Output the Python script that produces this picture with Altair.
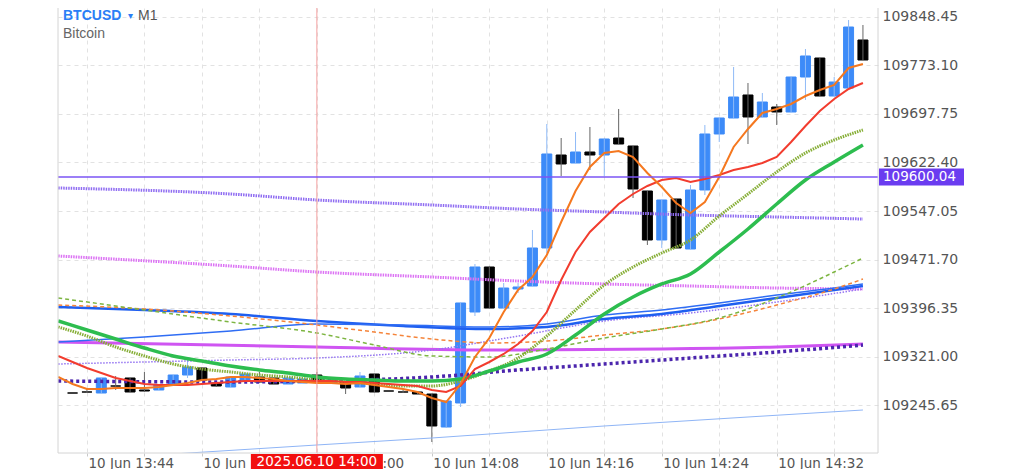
import altair as alt
import pandas as pd

DAY = "2025-06-10T"


def iso(hm):
    return DAY + hm + ":00"


def dt(hm, sec=0):
    h, m = hm.split(":")
    return alt.DateTime(year=2025, month=6, date=10, hours=int(h), minutes=int(m), seconds=sec)


W, H = 820, 445

# ---------------- candles (M1) ----------------
candle_times = [
    "13:43", "13:44", "13:45", "13:46", "13:47", "13:48", "13:49", "13:50", "13:51", "13:52",
    "13:53", "13:54", "13:55", "13:56", "13:57", "13:58", "13:59", "14:00", "14:01", "14:02",
    "14:03", "14:04", "14:05", "14:06", "14:07", "14:08", "14:09", "14:10", "14:11", "14:12",
    "14:13", "14:14", "14:15", "14:16", "14:17", "14:18", "14:19", "14:20", "14:21", "14:22",
    "14:23", "14:24", "14:25", "14:26", "14:27", "14:28", "14:29", "14:30", "14:31", "14:32",
    "14:33", "14:34", "14:35", "14:36", "14:37", "14:38"]
open_ = [
    109264.29, 109265.85, 109264.29, 109275.17, 109287.60, 109268.96, 109268.96, 109276.72, 109292.26, 109303.14,
    109279.83, 109273.62, 109282.94, 109289.15, 109287.60, 109278.28, 109279.83, 109292.26, 109279.83, 109281.38,
    109273.62, 109293.81, 109267.40, 109265.85, 109265.85, 109262.74, 109211.47, 109248.76, 109390.14, 109460.05,
    109396.35, 109425.87, 109430.53, 109489.57, 109634.05, 109621.62, 109638.71, 109634.05, 109660.46, 109648.03,
    109578.12, 109502.00, 109565.69, 109488.01, 109579.68, 109666.68, 109691.54, 109727.27, 109693.09, 109708.62,
    109700.86, 109755.23, 109784.75, 109725.71, 109738.14, 109812.72]
high = [
    109264.29, 109270.51, 109287.60, 109290.71, 109287.60, 109296.92, 109276.72, 109292.26, 109318.67, 109304.69,
    109281.38, 109289.15, 109293.81, 109296.92, 109287.60, 109287.60, 109286.05, 109296.92, 109284.49, 109281.38,
    109296.92, 109293.81, 109267.40, 109268.96, 109265.85, 109262.74, 109251.87, 109404.12, 109464.71, 109460.05,
    109435.19, 109435.19, 109517.53, 109682.21, 109660.46, 109669.78, 109677.55, 109658.91, 109705.52, 109648.03,
    109578.12, 109564.14, 109565.69, 109587.44, 109680.66, 109691.54, 109770.77, 109745.91, 109730.38, 109713.29,
    109755.23, 109798.73, 109784.75, 109755.23, 109843.79, 109836.02]
low = [
    109264.29, 109264.29, 109264.29, 109268.96, 109265.85, 109265.85, 109268.96, 109276.72, 109287.60, 109284.49,
    109273.62, 109273.62, 109282.94, 109279.83, 109278.28, 109278.28, 109279.83, 109282.94, 109279.83, 109262.74,
    109273.62, 109265.85, 109267.40, 109264.29, 109262.74, 109188.17, 109209.92, 109242.54, 109383.92, 109396.35,
    109396.35, 109419.66, 109430.53, 109481.80, 109601.43, 109621.62, 109610.75, 109601.43, 109651.14, 109567.25,
    109494.23, 109489.57, 109489.57, 109488.01, 109571.91, 109654.25, 109691.54, 109651.14, 109693.09, 109680.66,
    109700.86, 109719.50, 109725.71, 109725.71, 109738.14, 109781.64]
close = [
    109264.29, 109265.85, 109287.60, 109275.17, 109265.85, 109267.40, 109276.72, 109292.26, 109304.69, 109284.49,
    109275.17, 109289.15, 109293.81, 109281.38, 109278.28, 109287.60, 109286.05, 109282.94, 109284.49, 109272.06,
    109290.71, 109265.85, 109267.40, 109265.85, 109262.74, 109213.03, 109251.87, 109404.12, 109460.05, 109396.35,
    109427.42, 109428.98, 109489.57, 109635.61, 109620.07, 109638.71, 109634.05, 109658.91, 109651.14, 109581.23,
    109502.00, 109564.14, 109489.57, 109579.68, 109666.68, 109691.54, 109724.16, 109693.09, 109716.39, 109700.86,
    109755.23, 109787.86, 109725.71, 109747.46, 109832.91, 109781.64]

# ---------------- indicator lines ----------------
minute_times = [
    "13:42", "13:43", "13:44", "13:45", "13:46", "13:47", "13:48", "13:49", "13:50", "13:51",
    "13:52", "13:53", "13:54", "13:55", "13:56", "13:57", "13:58", "13:59", "14:00", "14:01",
    "14:02", "14:03", "14:04", "14:05", "14:06", "14:07", "14:08", "14:09", "14:10", "14:11",
    "14:12", "14:13", "14:14", "14:15", "14:16", "14:17", "14:18", "14:19", "14:20", "14:21",
    "14:22", "14:23", "14:24", "14:25", "14:26", "14:27", "14:28", "14:29", "14:30", "14:31",
    "14:32", "14:33", "14:34", "14:35", "14:36", "14:37", "14:38"]
ma_orange = [
    109289.15, 109278.28, 109270.51, 109270.51, 109272.06, 109272.06, 109272.06, 109273.62, 109276.72, 109279.83,
    109284.49, 109286.05, 109289.15, 109289.15, 109287.60, 109286.05, 109282.94, 109281.38, 109279.83, 109279.83,
    109278.28, 109279.83, 109276.72, 109273.62, 109270.51, 109265.85, 109256.53, 109250.31, 109278.28, 109320.22,
    109349.74, 109390.14, 109424.32, 109444.51, 109478.69, 109529.96, 109578.12, 109615.41, 109637.16, 109640.27,
    109630.94, 109606.09, 109584.34, 109559.48, 109543.94, 109561.03, 109599.87, 109646.48, 109674.45, 109699.30,
    109705.52, 109713.29, 109725.71, 109735.04, 109742.80, 109769.22, 109775.43]
ma_red = [
    109321.78, 109312.46, 109303.14, 109295.37, 109287.60, 109282.94, 109278.28, 109276.72, 109276.72, 109276.72,
    109278.28, 109279.83, 109281.38, 109282.94, 109282.94, 109282.94, 109282.94, 109282.94, 109282.94, 109282.94,
    109281.38, 109281.38, 109279.83, 109278.28, 109276.72, 109275.17, 109268.96, 109265.85, 109275.17, 109301.58,
    109312.46, 109324.89, 109340.42, 109360.62, 109390.14, 109439.85, 109483.35, 109514.42, 109536.18, 109557.93,
    109573.46, 109585.89, 109595.21, 109598.32, 109592.10, 109596.77, 109602.98, 109610.75, 109615.41, 109621.62,
    109630.94, 109654.25, 109679.11, 109702.41, 109721.05, 109736.59, 109745.91]

two_min_times = [
    "13:42", "13:44", "13:46", "13:48", "13:50", "13:52", "13:54", "13:56", "13:58", "14:00",
    "14:02", "14:04", "14:06", "14:08", "14:10", "14:12", "14:14", "14:16", "14:18", "14:20",
    "14:22", "14:24", "14:26", "14:28", "14:30", "14:32", "14:34", "14:36", "14:38"]
ma_olive_dot = [
    109366.83, 109352.85, 109335.76, 109321.78, 109309.35, 109301.58, 109296.92, 109292.26, 109289.15, 109284.49,
    109281.38, 109278.28, 109275.17, 109275.17, 109282.94, 109298.47, 109318.67, 109352.85, 109393.24, 109432.08,
    109460.05, 109481.80, 109502.00, 109539.28, 109573.46, 109607.64, 109637.16, 109657.36, 109672.89]
ma_green = [
    109376.15, 109362.17, 109348.19, 109334.21, 109321.78, 109314.01, 109306.24, 109300.03, 109295.37, 109289.15,
    109286.05, 109284.49, 109282.94, 109282.94, 109286.05, 109298.47, 109312.46, 109324.89, 109354.40, 109387.03,
    109413.44, 109433.64, 109449.17, 109483.35, 109519.09, 109557.93, 109595.21, 109623.18, 109649.59]

dash_times = ["13:42", "13:48", "13:54", "14:00", "14:04", "14:08", "14:12", "14:16", "14:20", "14:24",
              "14:28", "14:32", "14:36", "14:38"]
ma_olive_dash = [109411.89, 109393.24, 109374.60, 109357.51, 109338.87, 109321.78, 109320.22, 109332.65,
                 109349.74, 109363.73, 109380.82, 109411.89, 109452.28, 109474.03]
ma_orange_dash = [109401.01, 109394.80, 109383.92, 109369.94, 109359.06, 109348.19, 109341.98, 109345.08,
                  109354.40, 109363.73, 109379.26, 109401.01, 109425.87, 109441.41]

blue_times = ["13:42", "13:48", "13:54", "14:00", "14:06", "14:12", "14:16", "14:20", "14:24", "14:28",
              "14:32", "14:36", "14:38"]
ma_blue_thick = [109397.90, 109393.24, 109387.03, 109376.15, 109368.39, 109363.73, 109366.83, 109379.26,
                 109387.03, 109399.46, 109411.89, 109424.32, 109430.53]
ma_blue_thin = [109343.53, 109351.30, 109360.62, 109371.49, 109369.94, 109366.83, 109371.49, 109385.48,
                109393.24, 109404.12, 109416.55, 109427.42, 109433.64]

magenta_times = ["13:42", "14:00", "14:12", "14:24", "14:32", "14:38"]
ma_magenta = [109343.53, 109335.76, 109331.10, 109332.65, 109335.76, 109340.42]

slow_times = ["13:42", "13:54", "14:00", "14:08", "14:14", "14:20", "14:26", "14:32", "14:38"]
ma_indigo_dot = [109282.94, 109281.38, 109282.94, 109289.15, 109300.03, 109309.35, 109318.67, 109327.99, 109338.87]
ma_lavender_dot = [109309.35, 109315.56, 109318.67, 109331.10, 109352.85, 109376.15, 109388.58, 109405.67, 109425.87]
ma_violet_dot = [109582.78, 109573.46, 109564.14, 109556.37, 109550.16, 109545.50, 109540.84, 109537.73, 109534.62]
ma_pink_dot = [109477.14, 109461.60, 109452.28, 109444.51, 109438.30, 109433.64, 109430.53, 109427.42, 109425.87]

trend_times = ["13:50", "14:00", "14:08", "14:20", "14:30", "14:38"]
trend_blue = [109169.53, 109183.51, 109194.38, 109213.03, 109227.01, 109237.88]

# ---------------- axis / annotation values ----------------
y_ticks = [109245.65, 109321.00, 109396.35, 109471.70, 109547.05, 109622.40, 109697.75, 109773.10, 109848.45]
x_grid_times = ["13:44", "13:48", "13:52", "13:56", "14:00", "14:04", "14:08", "14:12", "14:16",
                "14:20", "14:24", "14:28", "14:32", "14:36"]
bid_price = 109600.04
bid_label = "109600.04"
cross_time = "14:00"
cross_label = "2025.06.10 14:00"
symbol = "BTCUSD"
timeframe = "M1"
description = "Bitcoin"

BLUE = "#3d8bf8"
GRID = "#e2e2e2"

xs = alt.Scale(domain=[dt("13:42", 20), dt("14:38", 42)])
ys = alt.Scale(domain=[109171.08, 109862.43], zero=False, nice=False)
UP = "datum.close > datum.open"

x_axis = alt.Axis(
    values=[dt(s) for s in x_grid_times],
    labelExpr="(hours(datum.value)*60 + minutes(datum.value)) % 8 == 0 ? timeFormat(datum.value, '%d %b %H:%M') : ''",
    grid=True, gridColor=GRID, gridDash=[4, 4], domain=False,
    ticks=True, tickSize=3, tickColor="#c8c8c8",
    labelAlign="left", labelOffset=1, labelPadding=0, labelBaseline="top",
    labelFont="DejaVu Sans", labelFontSize=13.5, labelColor="#555555",
    labelOverlap=False, labelFlush=False, title=None)
y_axis = alt.Axis(
    orient="right", values=y_ticks, format=".2f",
    grid=True, gridColor=GRID, gridDash=[4, 4], domain=False, ticks=False,
    labelPadding=4, labelFont="DejaVu Sans", labelFontSize=14, labelColor="#555555",
    labelOverlap=False, title=None)


def XT(field="t"):
    return alt.X(f"{field}:T", scale=xs, axis=x_axis)


def YQ(field):
    return alt.Y(f"{field}:Q", scale=ys, axis=y_axis)


candles = pd.DataFrame({"t": [iso(s) for s in candle_times], "open": open_, "high": high,
                        "low": low, "close": close})

wicks = alt.Chart(candles).mark_rule(strokeWidth=1).encode(
    x=XT(), y=YQ("low"), y2="high:Q",
    color=alt.condition(UP, alt.value("#8fbaf7"), alt.value("#666666")))
bodies = alt.Chart(candles).mark_bar(size=10, strokeWidth=1).encode(
    x=XT(), y=YQ("open"), y2="close:Q",
    color=alt.condition(UP, alt.value(BLUE), alt.value("#000000")),
    stroke=alt.condition(UP, alt.value(BLUE), alt.value("#000000")))


def line(times, values, color, width, dash=None, interp="monotone"):
    df = pd.DataFrame({"t": [iso(s) for s in times], "p": values})
    kw = dict(color=color, strokeWidth=width, clip=True, interpolate=interp)
    if dash:
        kw["strokeDash"] = dash
    return alt.Chart(df).mark_line(**kw).encode(x=XT(), y=YQ("p"))


lines = [
    line(slow_times, ma_pink_dot, "#dc72f4", 3, [1.5, 1]),
    line(slow_times, ma_violet_dot, "#8f6cf2", 3, [1.5, 1]),
    line(trend_times, trend_blue, "#8fb5f6", 1, None, "linear"),
    line(magenta_times, ma_magenta, "#cf55f2", 3),
    line(slow_times, ma_lavender_dot, "#9474f2", 1.5, [1.5, 1.5]),
    line(blue_times, ma_blue_thick, "#1f5ff0", 2.5),
    line(blue_times, ma_blue_thin, "#2f6df4", 1.5),
    line(dash_times, ma_orange_dash, "#f5843a", 1.5, [4, 3]),
    line(dash_times, ma_olive_dash, "#7db541", 1.5, [4, 3]),
    line(slow_times, ma_indigo_dot, "#4b25ad", 3.5, [3, 3]),
    line(two_min_times, ma_olive_dot, "#86ae36", 3, [1.5, 1]),
    line(two_min_times, ma_green, "#2dbd4f", 3.5),
    line(minute_times, ma_red, "#f23c2e", 2, None, "linear"),
    line(minute_times, ma_orange, "#f5781f", 2, None, "linear"),
]

one = pd.DataFrame({"k": [0]})
cross_df = pd.DataFrame({"t": [iso(cross_time)], "label": [cross_label]})
bid_df = pd.DataFrame({"p": [bid_price], "label": [bid_label]})

crosshair = alt.Chart(cross_df).mark_rule(color="#f4a0a0", strokeWidth=1).encode(x=XT())
bid_line = alt.Chart(bid_df).mark_rule(color="#7b55f5", strokeWidth=1.5).encode(y=YQ("p"))
bid_box = alt.Chart(bid_df).mark_rect(color="#6a3cf0", yOffset=-8.5, y2Offset=8.5).encode(
    x=alt.value(821), x2=alt.value(906), y=YQ("p"), y2="p:Q")
bid_text = alt.Chart(bid_df).mark_text(align="left", baseline="middle", font="DejaVu Sans",
                                       fontSize=13.5, color="white", dy=0.5).encode(
    x=alt.value(825), y=YQ("p"), text="label:N")
time_box = alt.Chart(cross_df).mark_rect(color="#f20f0f", xOffset=-66, x2Offset=66).encode(
    x=XT(), x2=alt.X2("t"), y=alt.value(446), y2=alt.value(461))
time_text = alt.Chart(cross_df).mark_text(align="center", baseline="middle", font="DejaVu Sans",
                                          fontSize=13.5, color="white").encode(
    x=XT(), y=alt.value(454), text="label:N")

border_c = "#d4d4d4"
left_b = alt.Chart(one).mark_rule(color=border_c).encode(x=alt.value(0), y=alt.value(0), y2=alt.value(H))
right_b = alt.Chart(one).mark_rule(color=border_c).encode(x=alt.value(W), y=alt.value(0), y2=alt.value(H))
bottom_b = alt.Chart(one).mark_rule(color=border_c).encode(x=alt.value(0), x2=alt.value(W), y=alt.value(H))

t1 = alt.Chart(pd.DataFrame({"s": [symbol]})).mark_text(
    align="left", baseline="alphabetic", font="Liberation Sans", fontSize=14, fontWeight="bold",
    color="#2a7ef6").encode(x=alt.value(5), y=alt.value(12), text="s:N")
t2 = alt.Chart(pd.DataFrame({"s": ["\u25be"]})).mark_text(
    align="left", baseline="alphabetic", font="DejaVu Sans", fontSize=10,
    color="#2a7ef6").encode(x=alt.value(70), y=alt.value(11), text="s:N")
t3 = alt.Chart(pd.DataFrame({"s": [timeframe]})).mark_text(
    align="left", baseline="alphabetic", font="Liberation Sans", fontSize=14,
    color="#555555").encode(x=alt.value(80), y=alt.value(12), text="s:N")
t4 = alt.Chart(pd.DataFrame({"s": [description]})).mark_text(
    align="left", baseline="alphabetic", font="Liberation Sans", fontSize=14,
    color="#666666").encode(x=alt.value(5), y=alt.value(30), text="s:N")

chart = alt.layer(
    bodies, wicks, *lines, crosshair, bid_line, bid_box, bid_text, time_box, time_text,
    left_b, right_b, bottom_b, t1, t2, t3, t4
).properties(
    width=W, height=H,
    padding={"left": 50, "top": 0, "right": 120, "bottom": 16},
    autosize=alt.AutoSizeParams(type="none"),
    background="white",
).configure_view(stroke=None)

chart.save("out.html", embed_options={"renderer": "svg", "actions": False})
